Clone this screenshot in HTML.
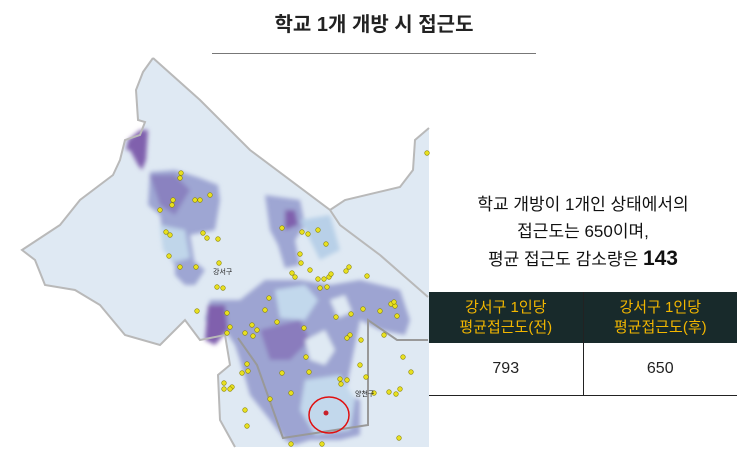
<!DOCTYPE html>
<html><head><meta charset="utf-8"><style>
body{margin:0;width:741px;height:454px;background:#fff;overflow:hidden;position:relative;font-family:"Liberation Sans","Noto Sans CJK KR",sans-serif}
#title{position:absolute;left:212px;width:324px;top:8px;text-align:center;font-size:20px;font-weight:bold;color:#222}
#rule{position:absolute;left:212px;width:324px;top:53px;height:1px;background:#777}
#desc{position:absolute;left:430px;width:306px;top:191px;text-align:center;font-size:17px;line-height:27px;color:#111}
#desc b{font-size:21px}
table{position:absolute;left:429px;top:292px;width:308px;border-collapse:collapse}
th{background:#182a2b;color:#f2b600;font-weight:normal;font-size:15px;line-height:20px;height:51px;padding:0;width:50%}
td{height:50px;text-align:center;font-size:16px;color:#222;border-bottom:1px solid #222}
th+th,td+td{border-left:1px solid #222}
</style></head><body>
<div id="title">학교 1개 개방 시 접근도</div>
<div id="rule"></div>
<svg id="map" width="430" height="454" style="position:absolute;left:0;top:0">
<defs><filter id="bl"><feGaussianBlur stdDeviation="2"/></filter></defs>
<polygon fill="#dfe9f3" points="153,58 143,72 136,90 138,120 145,122 140,135 125,140 120,160 113,175 80,200 60,225 22,250 35,260 45,285 75,290 100,305 125,335 160,345 185,320 200,340 225,335 230,365 218,375 220,420 235,447 429,447 429,128 415,140 413,170 400,187 345,200 330,210 250,150 200,100"/>
<g filter="url(#bl)">
<polygon fill="#8060ad" points="140,130 148,130 146,160 142,170 138,165 130,150 126,150 128,140"/>
<polygon fill="#9ea6d3" points="150,172 175,170 200,178 218,185 220,200 215,230 190,235 195,265 175,265 165,250 160,215 148,205"/>
<polygon fill="#8a82c0" points="150,175 175,175 190,190 175,215 160,205"/>
<polygon fill="#c0d6ea" points="160,225 185,230 190,258 175,262 163,250"/>
<polygon fill="#9ea6d3" points="175,262 195,262 205,270 195,285 185,285 175,275"/>
<polygon fill="#9ea6d3" points="265,195 300,200 305,225 295,240 300,265 285,268 278,245 270,230"/>
<polygon fill="#8060ad" points="285,210 295,210 298,225 285,230"/>
<polygon fill="#b8d0e8" points="300,220 330,215 340,250 320,260"/>
<polygon fill="#9da4d2" points="210,300 240,300 265,280 300,280 330,285 360,280 400,290 410,320 405,335 380,330 360,320 350,370 345,395 360,400 360,435 340,440 310,440 295,445 285,440 270,420 250,395 240,360 235,345 225,330 205,320"/>
<polygon fill="#8060ad" points="208,305 225,305 228,330 215,345 205,340"/>
<polygon fill="#8a7cbd" points="260,330 300,320 310,340 290,360 270,360"/>
<polygon fill="#c2d8ec" points="275,290 305,285 318,300 305,320 280,318"/>
<polygon fill="#c2d8ec" points="305,380 340,375 355,400 350,430 315,435 300,410"/>
<polygon fill="#dfe9f3" points="305,340 325,330 335,350 325,365 310,360"/>
<polygon fill="#dfe9f3" points="330,300 345,295 352,312 338,318"/>
</g>
<g fill="none" stroke="#b9b9b9" stroke-width="2">
<polyline points="153,58 200,100 250,150 330,210 340,225 380,255 428,297"/>
<polyline stroke="#999" points="238,338 257,365 283,438 368,425 368,320 397,340 428,340"/>
<polyline points="330,210 345,200 400,187 413,170 415,140 429,128"/>
<polyline points="153,58 143,72 136,90 138,120 145,122 140,135 125,140 120,160 113,175 80,200 60,225 22,250 35,260 45,285 75,290 100,305 125,335 160,345 185,320 200,340 225,335 230,365 218,375 220,420 235,447"/>
</g>
<g id="dots"></g>
<text x="213" y="274" font-size="7" fill="#222">강서구</text>
<text x="355" y="396" font-size="7" fill="#222">양천구</text>
<ellipse cx="329" cy="415" rx="20" ry="18" fill="none" stroke="#e01010" stroke-width="1.5"/>
<circle cx="326" cy="413" r="2.5" fill="#c8202a"/>
</svg>
<div id="desc">학교 개방이 1개인 상태에서의<br>접근도는 650이며,<br>평균 접근도 감소량은 <b>143</b></div>
<table>
<tr><th>강서구 1인당<br>평균접근도(전)</th><th>강서구 1인당<br>평균접근도(후)</th></tr>
<tr><td>793</td><td>650</td></tr>
</table>
<script>
const schoolX=[181,180,210,173,195,200,172,160,166,170,203,207,218,169,219,180,196,217,223,197,227,230,227,245,252,257,253,269,265,277,282,302,308,318,326,300,301,310,292,295,318,324,329,331,320,327,349,346,367,363,380,391,395,394,397,351,336,304,350,347,361,384,403,411,360,366,340,341,347,374,389,396,400,306,309,282,291,270,247,248,242,224,224,232,230,245,247,291,322,399,427];
const schoolY=[173,178,195,200,200,200,205,210,232,235,233,238,239,256,263,267,267,287,288,311,313,327,333,333,325,330,336,298,310,322,228,232,234,230,244,254,263,270,273,277,279,279,277,274,288,287,267,271,276,309,311,304,306,302,316,314,317,328,335,338,340,335,357,372,365,377,379,384,380,393,392,394,389,357,372,373,393,399,364,371,373,383,389,387,389,410,426,444,444,438,153];
const g=document.getElementById('dots');
schoolX.forEach((x,i)=>{
const c=document.createElementNS('http://www.w3.org/2000/svg','circle');


c.setAttribute('cx',x);c.setAttribute('cy',schoolY[i]);c.setAttribute('r',2.3);
c.setAttribute('fill','#e8e020');c.setAttribute('stroke','#8a8400');c.setAttribute('stroke-width','0.6');
g.appendChild(c);});
</script>
</body></html>
